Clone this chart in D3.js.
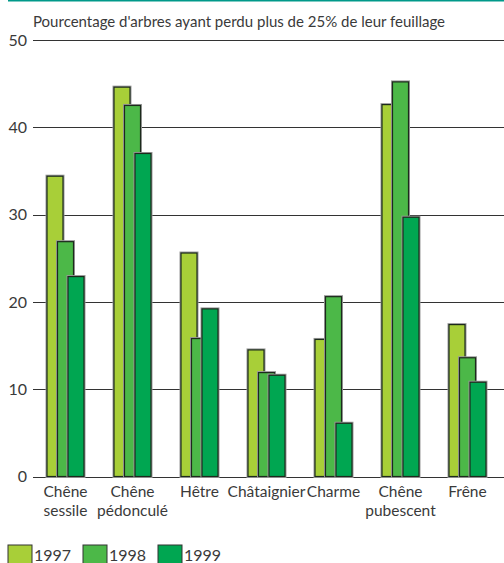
<!DOCTYPE html>
<html>
<head>
<meta charset="utf-8">
<script src="https://cdn.jsdelivr.net/npm/d3@7"></script>
<style>
  html, body { margin: 0; padding: 0; background: #fff; }
  svg { display: block; }
  text { font-family: Lato, "Open Sans", sans-serif; fill: #3a3a3a; }
</style>
</head>
<body>
<svg id="chart" width="504" height="563"></svg>
<script>
const categories = [["Chêne", "sessile"], ["Chêne", "pédonculé"], ["Hêtre"], ["Châtaignier"], ["Charme"], ["Chêne", "pubescent"], ["Frêne"]];
const years = ["1997", "1998", "1999"];
const values1997 = [34.4, 44.6, 25.6, 14.5, 15.7, 42.6, 17.4];
const values1998 = [26.9, 42.5, 15.8, 11.9, 20.6, 45.2, 13.6];
const values1999 = [22.9, 37.0, 19.2, 11.6, 6.1, 29.7, 10.8];
const yTicks = [0, 10, 20, 30, 40, 50];
const title = "Pourcentage d'arbres ayant perdu plus de 25% de leur feuillage";
const colors = ["#a8cf38", "#4cb848", "#00a651"];

const series = [values1997, values1998, values1999];
const catKeys = categories.map(c => c.join(" "));

const svg = d3.select("#chart");

// top teal rule
svg.append("line").attr("x1", 8).attr("x2", 504).attr("y1", 0.75).attr("y2", 0.75)
  .attr("stroke", "#00998a").attr("stroke-width", 1.5);

const y = d3.scaleLinear().domain([0, 50]).range([476.5, 40]);
const x = d3.scaleBand().domain(catKeys).range([33, 502]).padding(0);
const xi = d3.scaleBand().domain(years).range([14, 45.5]).padding(0);
const barW = 16;

// gridlines
svg.append("g").selectAll("line").data(yTicks).join("line")
  .attr("x1", 33).attr("x2", 504)
  .attr("y1", d => Math.round(y(d)) + 0.5).attr("y2", d => Math.round(y(d)) + 0.5)
  .attr("stroke", "#333").attr("stroke-width", 1.2);

// y tick labels
svg.append("g").selectAll("text").data(yTicks).join("text")
  .attr("x", 27).attr("y", d => y(d)).attr("dy", "0.35em")
  .attr("text-anchor", "end").attr("font-size", 16)
  .text(d => d);

// title
svg.append("text").attr("x", 33).attr("y", 26.5).attr("font-size", 15).text(title);

// bars
series.forEach((vals, j) => {
  const g = svg.append("g");
  const data = vals.map((v, i) => ({ cat: catKeys[i], v }));
  g.selectAll("rect.shadow").data(data).join("rect").attr("class", "shadow")
    .attr("x", d => x(d.cat) + xi(years[j]))
    .attr("y", d => y(d.v))
    .attr("width", barW).attr("height", d => y(0) - y(d.v))
    .attr("fill", "none").attr("stroke", "#9a9a9a").attr("stroke-width", 3);
  g.selectAll("rect.bar").data(data).join("rect").attr("class", "bar")
    .attr("x", d => x(d.cat) + xi(years[j]))
    .attr("y", d => y(d.v))
    .attr("width", barW).attr("height", d => y(0) - y(d.v))
    .attr("fill", colors[j]).attr("stroke", "#1c2a1c").attr("stroke-width", 1.2);
});

// category labels
const lab = svg.append("g").selectAll("text").data(categories).join("text")
  .attr("text-anchor", "middle").attr("font-size", 15.5)
  .attr("x", (d, i) => x(catKeys[i]) + 14 + (2 * 10.5 + barW) / 2)
  .attr("y", 497);
lab.each(function(d) {
  const t = d3.select(this);
  const cx = t.attr("x");
  d.forEach((line, k) => {
    t.append("tspan").attr("x", cx).attr("dy", k === 0 ? 0 : 19).text(line);
  });
});

// legend
const legX = [8, 83, 158];
const lg = svg.append("g").selectAll("g").data(years).join("g")
  .attr("transform", (d, i) => `translate(${legX[i]},545)`);
lg.append("rect").attr("width", 24).attr("height", 24)
  .attr("fill", (d, i) => colors[i]).attr("stroke", "#333").attr("stroke-width", 1);
lg.append("text").attr("x", 26).attr("y", 15.5).attr("font-size", 16).text(d => d);
</script>
</body>
</html>
